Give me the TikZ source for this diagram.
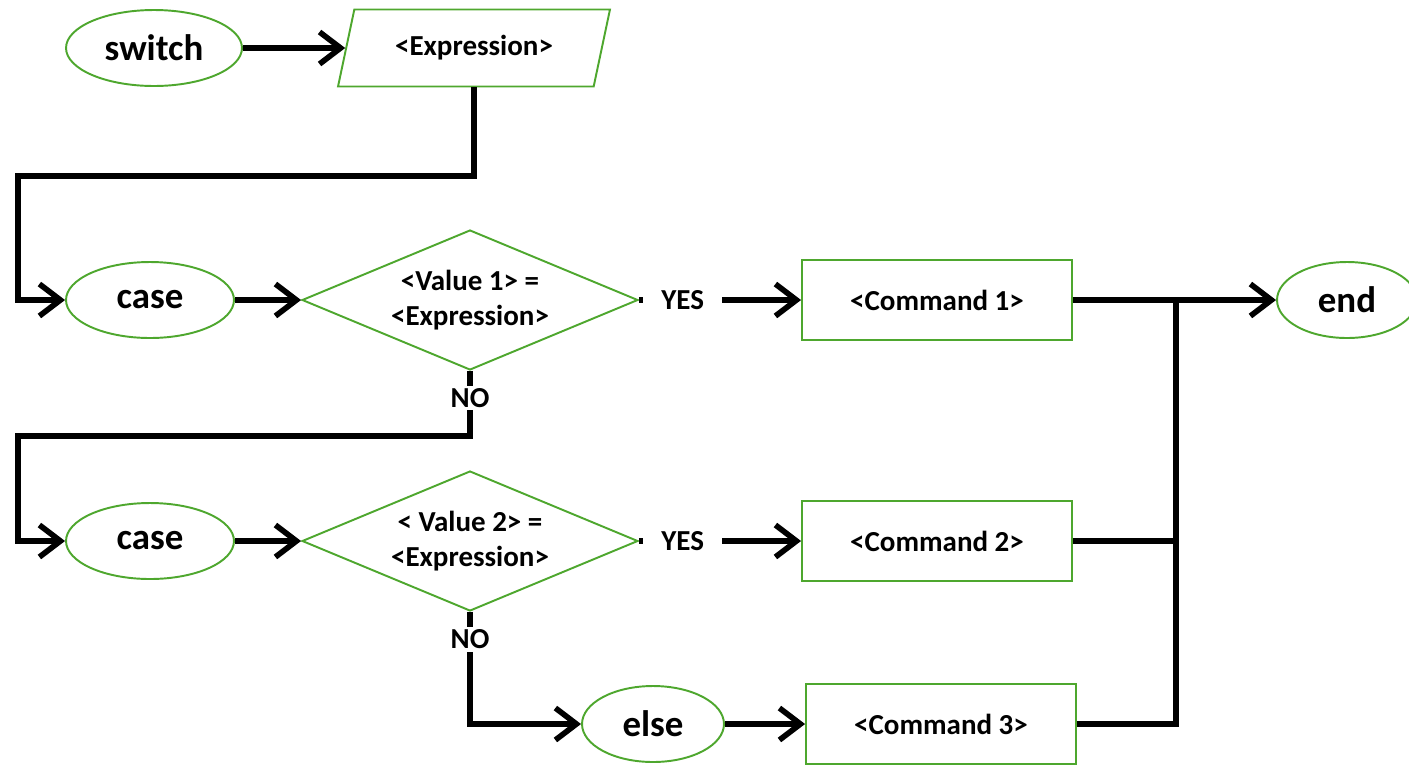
\documentclass[tikz,border=0pt]{standalone}
\usepackage{fontspec}
\setmainfont{Carlito}
\usetikzlibrary{positioning}
\usetikzlibrary{shapes.geometric}
\usetikzlibrary{arrows.meta}
\definecolor{boxgreen}{RGB}{78,167,46}

\begin{document}
\begin{tikzpicture}[%
    x=0.02cm, y=-0.02cm,
    font=\bfseries\fontsize{16.5}{19.8}\selectfont,
    >={Straight Barb[length=0.42cm, width=0.64cm]},
    link/.style={line width=3.2pt},
enode/.style={ellipse, align=center, draw=boxgreen, line width=1.1pt, minimum width=3.36cm, minimum height=1.52cm, font=\bfseries\fontsize{21}{25}\selectfont},
dnode/.style={diamond, align=center, aspect=2.4, inner sep=0pt, draw=boxgreen, line width=1.1pt, minimum width=6.72cm, minimum height=2.8cm},
squarednode/.style={rectangle, align=center, draw=boxgreen, line width=1.1pt, minimum width=5.4cm, minimum height=1.6cm},
inode/.style={trapezium, trapezium left angle=66, trapezium right angle=114, trapezium stretches body, align=center, draw=boxgreen, line width=1.1pt, minimum width=5.44cm, minimum height=1.54cm},
lbl/.style={fill=white, inner xsep=0.36cm, inner ysep=0.05cm}
]
\useasboundingbox (0,0) rectangle (1409,765);

% start nodes
\node[enode, minimum width=3.52cm] (switch) at (154,48) {switch};
\node[inode]       (expr) at (474,48) {<Expression>};

% first case
\node[enode]       (case1) at (150,300) {case};
\node[dnode]       (value1) at (470,300) {<Value 1> =\\<Expression>};
\node[squarednode] (command1) at (937,300) {<Command 1>};
\node[enode, minimum width=2.8cm] (end) at (1347,300) {end};

% second case
\node[enode]       (case2) at (150,541) {case};
\node[dnode]       (value2) at (470,541) {< Value 2> =\\<Expression>};
\node[squarednode] (command2) at (937,541) {<Command 2>};

% else
\node[enode, minimum width=2.84cm] (else) at (653,724) {else};
\node[squarednode] (command3) at (941,724) {<Command 3>};

% bends
\coordinate (bend1) at (18,176);
\coordinate (bend2) at (470,436);
\coordinate (bend3) at (18,436);
\coordinate (bend4) at (470,724);
\coordinate (join) at (1176,300);

% top lines
\draw[->, link] (switch.east) -- (expr.west);
\draw[->, link] (expr.center |- expr.south) |- (bend1) |- (case1.west);

% first case lines
\draw[->, link] (case1.east) -- (value1.west);
\draw[->, link] (value1.east) -- node[lbl, pos=0.27] {YES} (command1.west);
\draw[->, link] (value1.south) -- node[lbl, pos=0.42] {NO} (bend2) -- (bend3) |- (case2.west);

% second case lines
\draw[->, link] (case2.east) -- (value2.west);
\draw[->, link] (value2.east) -- node[lbl, pos=0.27] {YES} (command2.west);
\draw[->, link] (value2.south) -- node[lbl, pos=0.245] {NO} (bend4) -- (else.west);
\draw[->, link] (else.east) -- (command3.west);

% end lines
\draw[->, link] (command1.east) -- (end.west);
\draw[link] (command2.east) -- (command2.east -| join);
\draw[link] (command3.east) -| (join);

\end{tikzpicture}
\end{document}
